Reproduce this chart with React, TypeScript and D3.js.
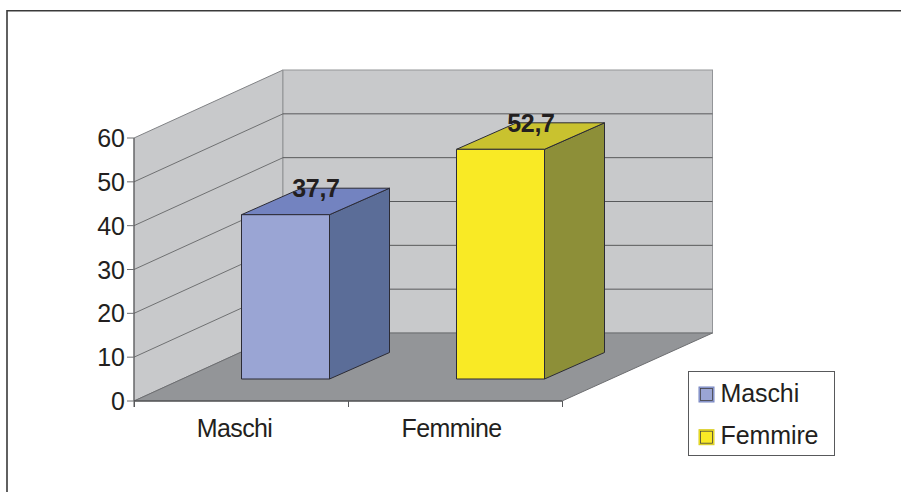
import React from "react";
import * as d3 from "d3";

const categories = ["Maschi", "Femmine"];
const values = [37.7, 52.7];
const valueLabels = ["37,7", "52,7"];
const legendLabels = ["Maschi", "Femmire"];
const yTicks = [0, 10, 20, 30, 40, 50, 60];

const W = 901, H = 492;
const FONT = "'Liberation Sans', Arial, sans-serif";
const front = { x0: 134, x1: 562, y0: 401, y1: 138 };
const DX = 149, DY = -68;
const BACK_X1 = front.x1 + 150.5;

const y = d3.scaleLinear().domain([0, 60]).range([front.y0, front.y1]);
const xTicks = d3.scaleBand<string>().domain(categories).range([front.x0, front.x1]);
const x = d3.scaleBand<string>().domain(categories).range([front.x0, front.x1 + 2]);

const BAR_W = 88;
const BAR_OFF_X = 44, BAR_BASE_Y = 379;
const BAR_DX = 60, BAR_DY = -26.5;
const barHeight = d3.scaleLinear().domain([0, 60]).range([0, 261.5]);

const pts = (p: [number, number][]) => p.map(d => d.map(n => +n.toFixed(2)).join(",")).join(" ");

const palette = [
  { front: "#9aa5d4", top: "#7383c0", side: "#5b6d98", swatch: "#9aa5d4", swEdge: "#7583c0" },
  { front: "#f9ea25", top: "#c9c22f", side: "#8d8f38", swatch: "#f9ea25", swEdge: "#d8cb20" },
];

export default function App() {
  return (
    <svg width={W} height={H} viewBox={`0 0 ${W} ${H}`} style={{ position: "absolute", left: 0, top: 0, background: "#fff" }} fontFamily={FONT}>
      <path d={`M7 ${H} V10.7 H${W}`} fill="none" stroke="#3a3a3a" strokeWidth={1.6} />

      {/* walls */}
      <polygon points={pts([[front.x0, y(0)], [front.x0, y(60)], [front.x0 + DX, y(60) + DY], [front.x0 + DX, y(0) + DY]])} fill="#c8c9cb" stroke="#808285" strokeWidth={1} />
      <rect x={front.x0 + DX} y={y(60) + DY} width={BACK_X1 - front.x0 - DX} height={y(0) - y(60)} fill="#c8c9cb" stroke="#939598" strokeWidth={1} />
      {/* floor */}
      <polygon points={pts([[front.x0, y(0)], [front.x1, y(0)], [BACK_X1, y(0) + DY], [front.x0 + DX, y(0) + DY]])} fill="#939598" stroke="#6d6e71" strokeWidth={1} />
      {/* gridlines */}
      {yTicks.filter(t => t > 0 && t < 60).map(t => (
        <g key={t} fill="none">
          <line x1={front.x0} x2={front.x0 + DX} y1={y(t)} y2={y(t) + DY} stroke="#58595b" strokeWidth={0.8} />
          <line x1={front.x0 + DX} x2={BACK_X1} y1={y(t) + DY} y2={y(t) + DY} stroke="#58595b" strokeWidth={1} />
        </g>
      ))}
      {/* axes */}
      <line x1={front.x0} x2={front.x0} y1={y(60)} y2={y(0) + 6} stroke="#58595b" strokeWidth={1} />
      <line x1={front.x0} x2={front.x1} y1={y(0)} y2={y(0)} stroke="#414042" strokeWidth={1.2} />
      {yTicks.map(t => (
        <g key={t}>
          <line x1={front.x0 - 7} x2={front.x0} y1={y(t)} y2={y(t)} stroke="#6d6e71" strokeWidth={1} />
          <text x={front.x0 - 9} y={y(t)} dy="0.36em" textAnchor="end" fontSize={25} fill="#231f20">{t}</text>
        </g>
      ))}
      {[front.x0, front.x0 + xTicks.step(), front.x1].map((tx, i) => (
        <line key={i} x1={tx + 0.5} x2={tx + 0.5} y1={y(0)} y2={y(0) + 6} stroke="#58595b" strokeWidth={1} />
      ))}
      {categories.map((c, i) => (
        <text key={c} x={x(c)! + x.bandwidth() / 2 - (i ? 5 : 7)} y={437} textAnchor="middle" fontSize={25} fill="#231f20" letterSpacing={-0.6}>{c}</text>
      ))}

      {/* bars */}
      {categories.map((c, i) => {
        const xl = x(c)! + (x.bandwidth() - BAR_W) / 2 + BAR_OFF_X;
        const xr = xl + BAR_W;
        const yb = BAR_BASE_Y;
        const yt = yb - barHeight(values[i]);
        const col = palette[i];
        return (
          <g key={c} stroke="#2b2b35" strokeWidth={1} strokeLinejoin="round">
            <polygon points={pts([[xr, yt], [xr + BAR_DX, yt + BAR_DY], [xr + BAR_DX, yb + BAR_DY], [xr, yb]])} fill={col.side} />
            <polygon points={pts([[xl, yt], [xl + BAR_DX, yt + BAR_DY], [xr + BAR_DX, yt + BAR_DY], [xr, yt]])} fill={col.top} />
            <rect x={xl} y={yt} width={BAR_W} height={yb - yt} fill={col.front} />
            <text x={xl + BAR_W / 2 + 30.5} y={yt - 17.5} stroke="none" textAnchor="middle" fontSize={25} fontWeight="bold" fill="#231f20" letterSpacing={-0.3}>{valueLabels[i]}</text>
          </g>
        );
      })}

      {/* legend */}
      <rect x={688.5} y={371.5} width={146} height={84} fill="#fff" stroke="#58595b" strokeWidth={1} />
      {legendLabels.map((l, i) => (
        <g key={l}>
          <rect x={699} y={387 + i * 42.7} width={15} height={15} fill={palette[i].swatch} stroke={palette[i].swEdge} strokeWidth={1} />
          <rect x={700.5} y={388.5 + i * 42.7} width={12} height={12} fill="none" stroke="#414042" strokeWidth={0.8} />
          <text x={720.5} y={402 + i * 42} fontSize={25} fill="#231f20" letterSpacing={-0.1}>{l}</text>
        </g>
      ))}
    </svg>
  );
}
